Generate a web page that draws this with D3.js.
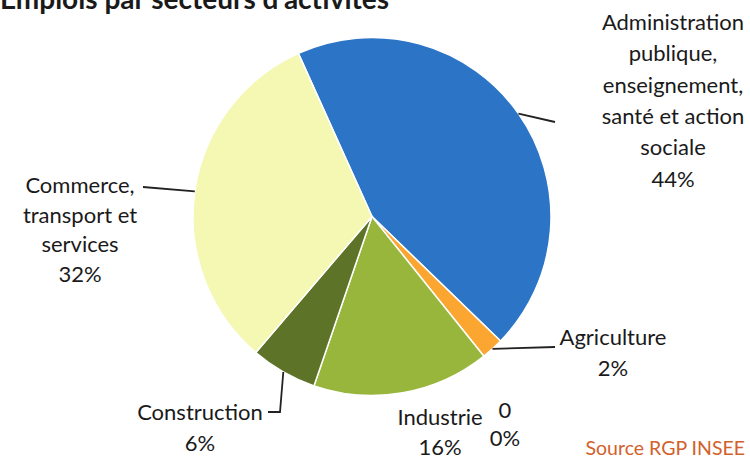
<!DOCTYPE html>
<html>
<head>
<meta charset="utf-8">
<script src="https://cdn.jsdelivr.net/npm/d3@7"></script>
<style>
  body { margin: 0; background: #fff; }
  text { font-family: Lato, "Open Sans", sans-serif; fill: #1a1a1a; }
</style>
</head>
<body>
<script>
'use strict';
// sectors, in clockwise order from the top-left edge of the pie
const categories = ["Administration publique, enseignement, santé et action sociale",
  "Agriculture", "0", "Industrie", "Construction", "Commerce, transport et services"];
const values = [44, 2, 0, 16, 6, 32];
const colors = ["#2c74c6", "#fba631", "#888888", "#98b63c", "#5d7428", "#f4f8b2"];
// label lines as they are wrapped in the picture
const labelLines = [
  ["Administration", "publique,", "enseignement,", "santé et action", "sociale", "44%"],
  ["Agriculture", "2%"],
  ["0", "0%"],
  ["Industrie", "16%"],
  ["Construction", "6%"],
  ["Commerce,", "transport et", "services", "32%"]
];

(function() {
  const width = 750, height = 460;
  const cx = 372, cy = 216.5, radius = 179;
  const start = -24.3 * Math.PI / 180;

  const svg = d3.select('body').append('svg')
    .attr('width', width)
    .attr('height', height);

  // title (cut off at the top of the picture)
  svg.append('text')
    .attr('x', 0)
    .attr('y', 9)
    .style('font-size', '28px')
    .style('font-weight', 'bold')
    .text("Emplois par secteurs d'activités");

  const data = categories.map((c, i) => ({ name: c, value: values[i], color: colors[i], lines: labelLines[i] }));

  const pie = d3.pie()
    .sort(null)
    .value(d => d.value)
    .startAngle(start)
    .endAngle(start + 2 * Math.PI);
  const arcs = pie(data);

  const arc = d3.arc().innerRadius(0).outerRadius(radius);

  const g = svg.append('g').attr('transform', `translate(${cx},${cy})`);
  g.selectAll('path')
    .data(arcs.filter(a => a.data.value > 0))
    .enter()
    .append('path')
      .attr('d', arc)
      .attr('fill', d => d.data.color)
      .attr('stroke', '#fff')
      .attr('stroke-width', 1.5);

  // label placement (layout), keyed by index
  const labelPos = [
    { x: 673, y: 30, dy: 31.3 },
    { x: 613, y: 345, dy: 31 },
    { x: 505, y: 418, dy: 28 },
    { x: 440, y: 425, dy: 30 },
    { x: 200, y: 420, dy: 31 },
    { x: 80, y: 193, dy: 29.7 }
  ];
  // leader line end points (after the arc point)
  const leaders = {
    0: [[555, 122]],
    1: [[555, 347]],
    4: [[280, 412], [268, 412]],
    5: [[143, 187]]
  };

  const pt = (a, r) => {
    const m = (a.startAngle + a.endAngle) / 2;
    return [cx + r * Math.sin(m), cy - r * Math.cos(m)];
  };

  Object.keys(leaders).forEach(k => {
    const a = arcs[+k];
    const pts = [pt(a, radius)].concat(leaders[k]);
    svg.append('path')
      .attr('d', d3.line()(pts))
      .attr('fill', 'none')
      .attr('stroke', '#222')
      .attr('stroke-width', 1.8);
  });

  arcs.forEach((a, i) => {
    const p = labelPos[i];
    const t = svg.append('text')
      .attr('text-anchor', 'middle')
      .style('font-size', '22px');
    a.data.lines.forEach((line, j) => {
      t.append('tspan')
        .attr('x', p.x)
        .attr('y', p.y + j * p.dy)
        .text(line);
    });
  });

  svg.append('text')
    .attr('x', 745)
    .attr('y', 455)
    .attr('text-anchor', 'end')
    .style('font-size', '19.5px')
    .style('fill', '#d2612b')
    .text('Source RGP INSEE');
})();
</script>
</body>
</html>
